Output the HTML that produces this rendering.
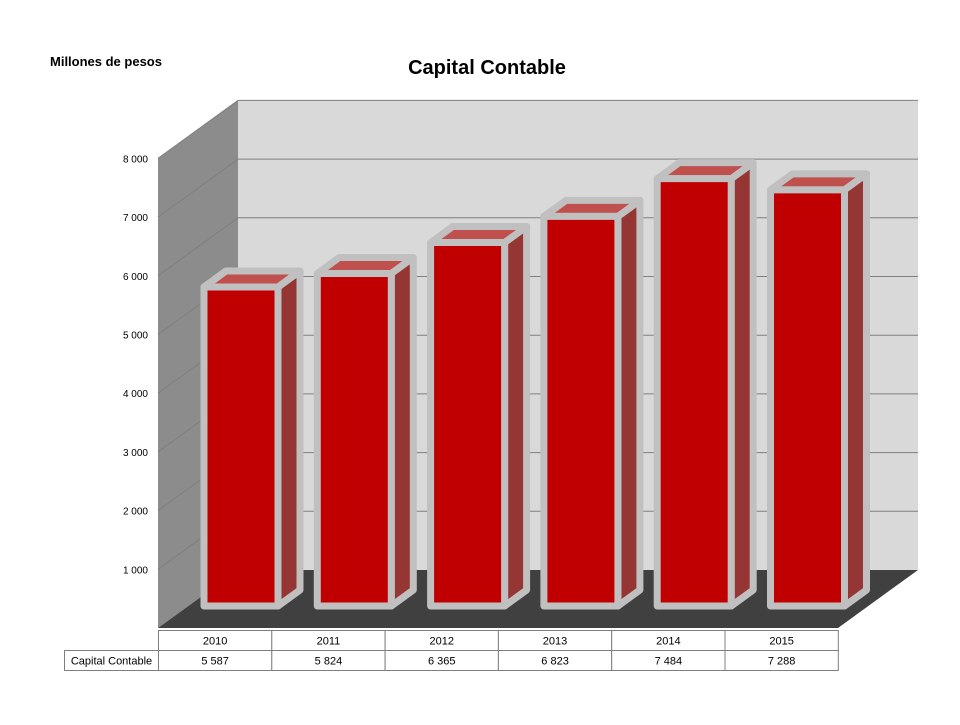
<!DOCTYPE html>
<html><head><meta charset="utf-8"><style>
body{margin:0;background:#fff;font-family:"Liberation Sans",sans-serif}
</style></head><body>
<svg width="960" height="720" viewBox="0 0 960 720" xmlns="http://www.w3.org/2000/svg">
<text x="50" y="66" font-size="13" font-weight="bold">Millones de pesos</text>
<text x="487" y="74" font-size="20" font-weight="bold" text-anchor="middle">Capital Contable</text>
<polygon points="238,100 918,100 918,570 238,570" fill="#d9d9d9"/>
<polygon points="158,158 238,100 238,570 158,628" fill="#8c8c8c"/>
<polygon points="158,628 238,570 918,570 838,628" fill="#404040"/>
<g id="grid"></g>
<g id="bars"></g>
<g id="table" font-size="11"></g>
</svg>
<script>
const categories=["2010","2011","2012","2013","2014","2015"];
const values=[5587,5824,6365,6823,7484,7288];
const labels=["5 587","5 824","6 365","6 823","7 484","7 288"];
const ticks=[1000,2000,3000,4000,5000,6000,7000,8000];
const tickLabels=["1 000","2 000","3 000","4 000","5 000","6 000","7 000","8 000"];
const NS="http://www.w3.org/2000/svg";
function mk(t,a,p){const e=document.createElementNS(NS,t);for(const k in a)e.setAttribute(k,a[k]);p.appendChild(e);return e;}
const gridY=v=>570-v*0.0587, frontY=v=>628-v*0.0587, barY=v=>606-v*0.0571;
const g=document.getElementById('grid');
ticks.forEach((t,i)=>{
 const l=mk('polyline',{points:`158,${frontY(t)} 238,${gridY(t)} 918,${gridY(t)}`,fill:'none',stroke:'#7f7f7f','stroke-width':1},g);
 
 
 const tl=mk('text',{x:148,y:frontY(t)+4,'font-size':10,'text-anchor':'end',fill:'#000'},g);
 tl.textContent=tickLabels[i];
 
 
});
const b=document.getElementById('bars');
const cw=113.3,dx=22,dy=-16,w=74;
values.forEach((v,i)=>{
 const x0=204+i*cw,x1=x0+w,yb=606,yt=barY(v);
 const grp=mk('g',{stroke:'#c0c0c0','stroke-width':7,'stroke-linejoin':'round'},b);
 
 
 mk('polygon',{points:`${x1},${yt} ${x1+dx},${yt+dy} ${x1+dx},${yb+dy} ${x1},${yb}`,fill:'#963634'},grp);
 mk('polygon',{points:`${x0},${yt} ${x0+dx},${yt+dy} ${x1+dx},${yt+dy} ${x1},${yt}`,fill:'#c0504d'},grp);
 mk('rect',{x:x0,y:yt,width:w,height:yb-yt,fill:'#c00000'},grp);
});
const tb=document.getElementById('table');
function cell(x,y,wd,h,txt,name){
 const r=mk('rect',{x,y,width:wd,height:h,fill:'#fff',stroke:'#7f7f7f','stroke-width':1},tb);
 
 
 const t=mk('text',{x:x+wd/2,y:y+h/2+4,'text-anchor':'middle'},tb);
 t.textContent=txt;
 
 
}
cell(64.5,650.5,94,20,"Capital Contable","series-label");
categories.forEach((c,i)=>{
 cell(158.5+i*cw,630.5,cw,20,c,"x-category-label");
 cell(158.5+i*cw,650.5,cw,20,labels[i],"data-value");
});
</script>
</body></html>
